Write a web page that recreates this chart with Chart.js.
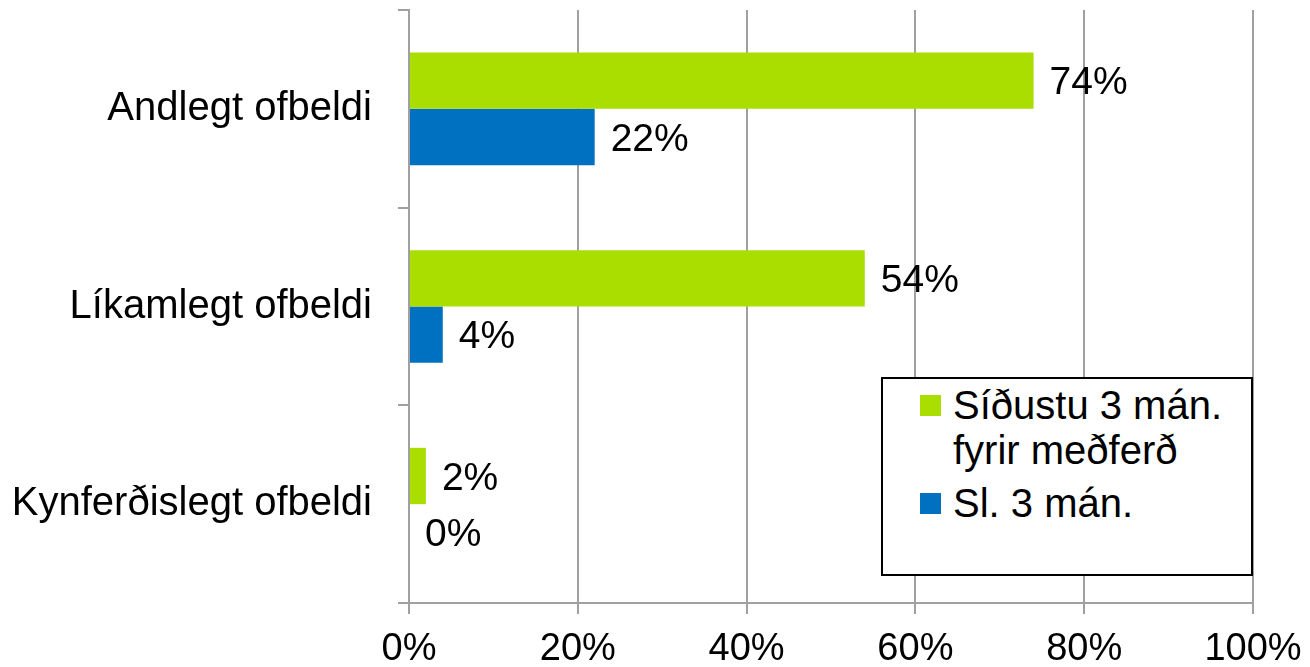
<!DOCTYPE html>
<html>
<head>
<meta charset="utf-8">
<script src="https://cdn.jsdelivr.net/npm/chart.js@4/dist/chart.umd.min.js"></script>
<style>
  html, body { margin: 0; padding: 0; background: #fff; }
  #wrap { position: relative; width: 1310px; height: 667px; overflow: hidden; }
  #legend {
    position: absolute; left: 881px; top: 377px; width: 368px; height: 195px;
    border: 2px solid #000; background: #fff;
    font-family: "Liberation Sans", Arial, sans-serif; font-size: 40px; color: #000;
    box-sizing: content-box;
  }
  .item { position: absolute; left: 38px; line-height: 45px; }
  .sw { position: absolute; left: -1px; width: 21px; height: 21px; }
  .txt { position: absolute; left: 32px; white-space: nowrap; }
</style>
</head>
<body>
<div id="wrap">
  <canvas id="c" width="1310" height="667"></canvas>
  <div id="legend"></div>
</div>
<script>
const categories = ["Andlegt ofbeldi", "Líkamlegt ofbeldi", "Kynferðislegt ofbeldi"];
const seriesNames = ["Síðustu 3 mán. fyrir meðferð", "Sl. 3 mán."];
const seriesBefore = [74, 54, 2];
const seriesLast = [22, 4, 0];
const xTicks = [0, 20, 40, 60, 80, 100];
const colors = ["#aadd00", "#0070c0"];

const FONT = '"Liberation Sans", Arial, sans-serif';

// HTML legend
const legend = document.getElementById('legend');
legend.innerHTML =
  '<div class="item" style="top:4px;"><div class="sw" style="top:12px;background:' + colors[0] + '"></div>' +
  '<div class="txt">Síðustu 3 mán.<br>fyrir meðferð</div></div>' +
  '<div class="item" style="top:102px;"><div class="sw" style="top:12px;background:' + colors[1] + '"></div>' +
  '<div class="txt">' + seriesNames[1] + '</div></div>';

const valueLabels = {
  id: 'valueLabels',
  afterDatasetsDraw(chart) {
    const ctx = chart.ctx;
    ctx.save();
    ctx.font = '39px ' + FONT;
    ctx.fillStyle = '#000';
    ctx.textAlign = 'left';
    ctx.textBaseline = 'middle';
    chart.data.datasets.forEach((ds, i) => {
      const meta = chart.getDatasetMeta(i);
      meta.data.forEach((bar, j) => {
        ctx.fillText(ds.data[j] + '%', bar.x + 16, bar.y + 3);
      });
    });
    ctx.restore();
  }
};

new Chart(document.getElementById('c'), {
  type: 'bar',
  data: {
    labels: categories,
    datasets: [
      { label: seriesNames[0], data: seriesBefore, backgroundColor: colors[0], categoryPercentage: 0.57, barPercentage: 1.0 },
      { label: seriesNames[1], data: seriesLast, backgroundColor: colors[1], categoryPercentage: 0.57, barPercentage: 1.0 }
    ]
  },
  options: {
    indexAxis: 'y',
    responsive: false,
    animation: false,
    devicePixelRatio: 1,
    layout: { padding: { top: 10, right: 57, left: 0, bottom: 0 } },
    plugins: { legend: { display: false }, tooltip: { enabled: false } },
    scales: {
      x: {
        min: 0, max: 100,
        afterBuildTicks(axis) { axis.ticks = xTicks.map(v => ({ value: v })); },
        afterFit(axis) { axis.height = 64; axis.paddingLeft = 0; axis.paddingRight = 0; },
        ticks: {
          callback: v => v + '%',
          font: { family: FONT, size: 38 },
          color: '#000',
          padding: 13,
          maxRotation: 0,
          autoSkip: false
        },
        grid: { color: '#a0a0a0', lineWidth: 2, tickLength: 11, drawTicks: true },
        border: { color: '#a0a0a0', width: 2 }
      },
      y: {
        afterFit(axis) { axis.width = 409; axis.paddingTop = 0; axis.paddingBottom = 0; },
        ticks: {
          font: { family: FONT, size: 40 },
          color: '#000',
          padding: 26
        },
        grid: { offset: true, drawOnChartArea: false, color: '#a0a0a0', lineWidth: 2, tickLength: 11 },
        border: { color: '#a0a0a0', width: 2 }
      }
    }
  },
  plugins: [valueLabels]
});
</script>
</body>
</html>
